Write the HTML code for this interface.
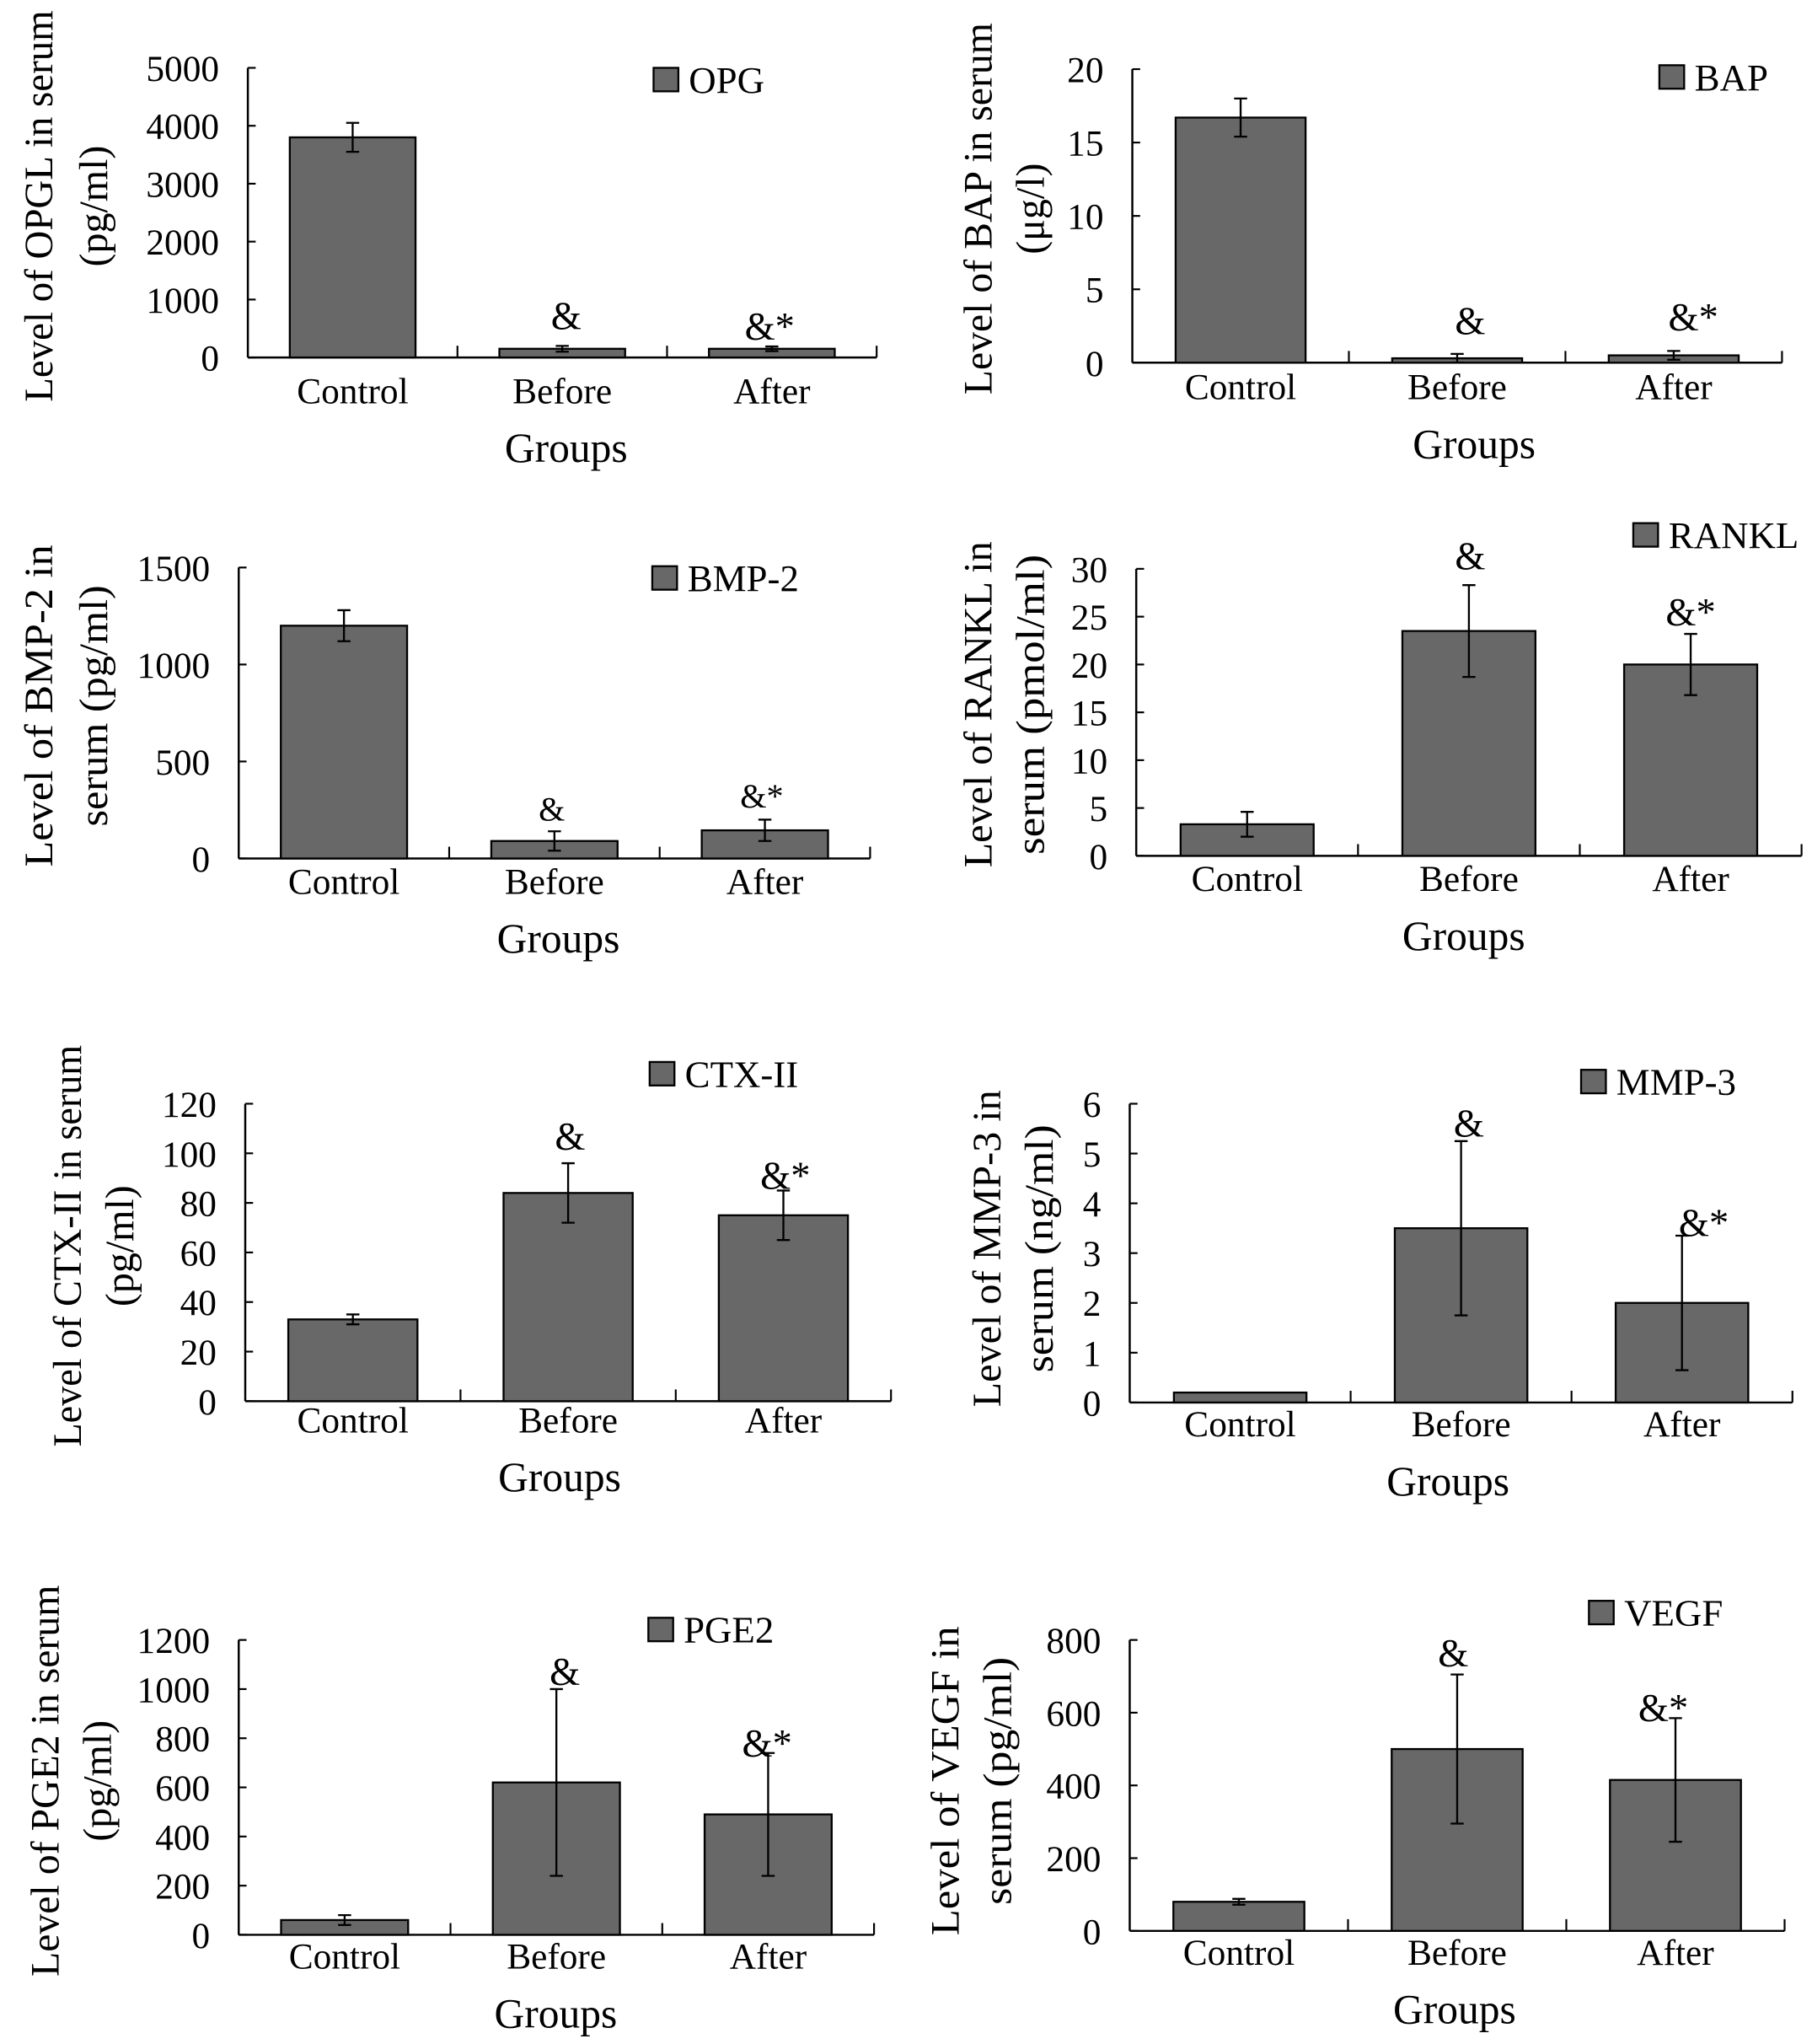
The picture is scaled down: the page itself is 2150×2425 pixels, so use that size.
<!DOCTYPE html>
<html><head><meta charset="utf-8"><style>
html,body{margin:0;padding:0;background:#fff}
svg{display:block}
text{font-family:"Liberation Serif",serif;fill:#000}
</style></head><body>
<svg id="fig" width="2150" height="2425" viewBox="0 0 1389 1566.7" preserveAspectRatio="none" xmlns="http://www.w3.org/2000/svg"></svg>
<script>
const categories = ['Control','Before','After'];
const opgValues = [3800,150,150];   const opgErrors = [250,50,40];
const bapValues = [16.7,0.3,0.5];   const bapErrors = [1.3,0.3,0.3];
const bmpValues = [1200,90,145];    const bmpErrors = [80,50,55];
const ranklValues = [3.3,23.5,20];  const ranklErrors = [1.3,4.8,3.2];
const ctxValues = [33,84,75];       const ctxErrors = [2,12,10];
const mmpValues = [0.2,3.5,2.0];    const mmpErrors = [0,1.75,1.35];
const pgeValues = [60,620,490];     const pgeErrors = [20,380,250];
const vegfValues = [80,500,415];    const vegfErrors = [8,205,170];
const opgTicks = [0,1000,2000,3000,4000,5000];
const bapTicks = [0,5,10,15,20];
const bmpTicks = [0,500,1000,1500];
const ranklTicks = [0,5,10,15,20,25,30];
const ctxTicks = [0,20,40,60,80,100,120];
const mmpTicks = [0,1,2,3,4,5,6];
const pgeTicks = [0,200,400,600,800,1000,1200];
const vegfTicks = [0,200,400,600,800];
const annotations = ['','&','&*'];

const panels = [
 {id:'opg',legend:'OPG',vals:opgValues,errs:opgErrors,ticks:opgTicks,ax:190,top:52,bot:274,right:672,catY:299,grpX:434,grpY:343,lx:501,ly:52,t1:'Level of OPGL in serum',t2:'(pg/ml)',tx1:30,tx2:72,tcy:158,tl1:300,tl2:null,ann:[[0,0],[434,242],[590,250]],annFs:28},
 {id:'bap',legend:'BAP',vals:bapValues,errs:bapErrors,ticks:bapTicks,ax:868,top:53,bot:278,right:1366,catY:296,grpX:1130,grpY:340,lx:1272,ly:50,t1:'Level of BAP in serum',t2:'(μg/l)',tx1:750,tx2:790,tcy:160,tl1:285,tl2:null,ann:[[0,0],[1127,246],[1298,243]],annFs:28},
 {id:'bmp2',legend:'BMP-2',vals:bmpValues,errs:bmpErrors,ticks:bmpTicks,ax:183,top:435,bot:658,right:667,catY:675,grpX:428,grpY:719,lx:500,ly:434,t1:'Level of BMP-2 in',t2:'serum (pg/ml)',tx1:30,tx2:72,tcy:541,tl1:247,tl2:185,ann:[[0,0],[423,619],[584,609]],annFs:24},
 {id:'rankl',legend:'RANKL',vals:ranklValues,errs:ranklErrors,ticks:ranklTicks,ax:871,top:436,bot:656,right:1381,catY:673,grpX:1122,grpY:717,lx:1252,ly:401,t1:'Level of RANKL in',t2:'serum (pmol/ml)',tx1:750,tx2:790,tcy:540,tl1:250,tl2:230,ann:[[0,0],[1127,426],[1296,469]],annFs:28},
 {id:'ctx2',legend:'CTX-II',vals:ctxValues,errs:ctxErrors,ticks:ctxTicks,ax:188,top:846,bot:1074,right:683,catY:1088,grpX:429,grpY:1132,lx:498,ly:814,t1:'Level of CTX-II in serum',t2:'(pg/ml)',tx1:52,tx2:92,tcy:955,tl1:308,tl2:null,ann:[[0,0],[437,871],[602,901]],annFs:28},
 {id:'mmp3',legend:'MMP-3',vals:mmpValues,errs:mmpErrors,ticks:mmpTicks,ax:866,top:846,bot:1075,right:1374,catY:1091,grpX:1110,grpY:1135,lx:1212,ly:820,t1:'Level of MMP-3 in',t2:'serum (ng/ml)',tx1:757,tx2:797,tcy:957,tl1:243,tl2:190,ann:[[0,0],[1126,861],[1306,937]],annFs:28},
 {id:'pge2',legend:'PGE2',vals:pgeValues,errs:pgeErrors,ticks:pgeTicks,ax:183,top:1257,bot:1483,right:670,catY:1499,grpX:426,grpY:1543,lx:497,ly:1240,t1:'Level of PGE2 in serum',t2:'(pg/ml)',tx1:35,tx2:75,tcy:1365,tl1:300,tl2:null,ann:[[0,0],[433,1281],[588,1336]],annFs:28},
 {id:'vegf',legend:'VEGF',vals:vegfValues,errs:vegfErrors,ticks:vegfTicks,ax:866,top:1257,bot:1480,right:1368,catY:1496,grpX:1115,grpY:1540,lx:1218,ly:1227,t1:'Level of VEGF in',t2:'serum (pg/ml)',tx1:725,tx2:765,tcy:1365,tl1:237,tl2:190,ann:[[0,0],[1114,1267],[1275,1309]],annFs:28}
];
const NS='http://www.w3.org/2000/svg';
const svg=document.getElementById('fig');
function mk(tag,attrs,parent,txt){const e=document.createElementNS(NS,tag);for(const k in attrs)e.setAttribute(k,attrs[k]);if(txt!=null)e.textContent=txt;parent.appendChild(e);return e;}
panels.forEach(p=>{
 const g=mk('g',{},svg);
 
 
 const max=p.ticks[p.ticks.length-1];
 const y=v=>p.bot-(v/max)*(p.bot-p.top);
 const cw=(p.right-p.ax)/3;
 const xc=i=>p.ax+(i+0.5)*cw;
 const ya=mk('line',{x1:p.ax,y1:p.top,x2:p.ax,y2:p.bot,stroke:'#000','stroke-width':1.6},g);
 
 
 const xa=mk('line',{x1:p.ax,y1:p.bot,x2:p.right,y2:p.bot,stroke:'#000','stroke-width':1.6},g);
 
 
 p.ticks.forEach(t=>{
  mk('line',{x1:p.ax,y1:y(t),x2:p.ax+6,y2:y(t),stroke:'#000','stroke-width':1.4},g);
  const tl=mk('text',{x:p.ax-22,y:y(t)+10,'text-anchor':'end','font-size':28},g,String(t));
  
  
 });
 for(let i=1;i<=3;i++) mk('line',{x1:p.ax+i*cw,y1:p.bot,x2:p.ax+i*cw,y2:p.bot-9,stroke:'#000','stroke-width':1.4},g);
 categories.forEach((c,i)=>{
  const bw=cw*0.6;
  const b=mk('rect',{x:xc(i)-bw/2,y:y(p.vals[i]),width:bw,height:p.bot-y(p.vals[i]),fill:'#686868',stroke:'#000','stroke-width':1.5},g);
  
  
  if(p.errs[i]>0){
   const e=mk('path',{d:`M${xc(i)},${y(p.vals[i]+p.errs[i])}V${y(p.vals[i]-p.errs[i])}M${xc(i)-5},${y(p.vals[i]+p.errs[i])}h10M${xc(i)-5},${y(p.vals[i]-p.errs[i])}h10`,stroke:'#000','stroke-width':1.5,fill:'none'},g);
   
   
  }
  const cl=mk('text',{x:xc(i),y:p.catY+10,'text-anchor':'middle','font-size':28},g,c);
  
  
  if(annotations[i]){
   const a=mk('text',{x:p.ann[i][0],y:p.ann[i][1]+10,'text-anchor':'middle','font-size':p.annFs+2},g,annotations[i]);
   
   
  }
 });
 const gt=mk('text',{x:p.grpX,y:p.grpY+11,'text-anchor':'middle','font-size':32},g,'Groups');
 
 
 const ls=mk('rect',{x:p.lx,y:p.ly,width:19,height:18,fill:'#686868',stroke:'#000','stroke-width':1.5},g);
 
 
 const lt=mk('text',{x:p.lx+27,y:p.ly+19,'font-size':29},g,p.legend);
 
 
 const a1={x:0,y:0,'text-anchor':'middle','font-size':31,transform:`translate(${p.tx1+10},${p.tcy}) rotate(-90)`,textLength:p.tl1,lengthAdjust:'spacingAndGlyphs'};
 const t1=mk('text',a1,g,p.t1);
 
 
 const a2={x:0,y:0,'text-anchor':'middle','font-size':31,transform:`translate(${p.tx2+10},${p.tcy}) rotate(-90)`};
 if(p.tl2){a2.textLength=p.tl2;a2.lengthAdjust='spacingAndGlyphs';}
 const t2=mk('text',a2,g,p.t2);
 
 
});
</script>
</body></html>
